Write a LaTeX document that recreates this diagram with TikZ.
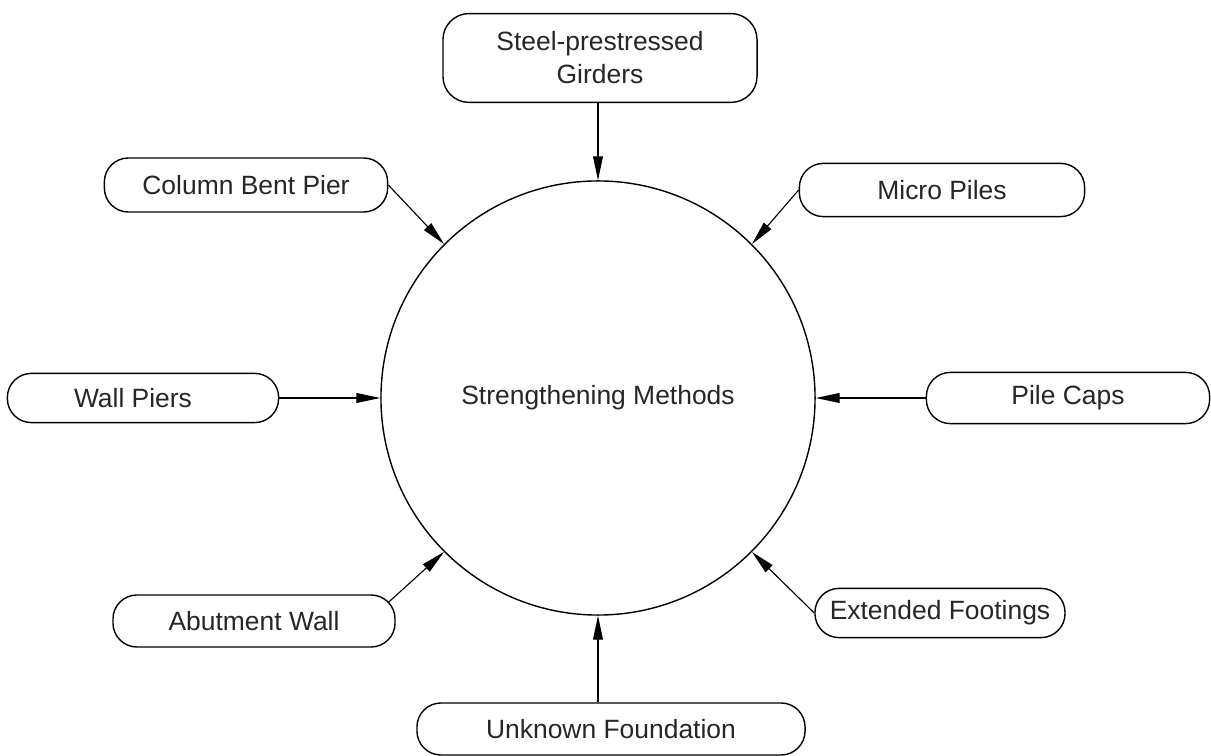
\documentclass[tikz,border=0pt]{standalone}
\usepackage{fontspec}
\setmainfont{Liberation Sans}
\usetikzlibrary{arrows.meta,calc}

\begin{document}
\begin{tikzpicture}[x=0.025cm,y=0.025cm,
  font=\fontsize{18.8}{23.5}\selectfont,
  every node/.style={draw=black, line width=1pt, text=black!85},
  method/.style={rectangle, rounded corners=0.6cm, minimum height=1.3cm, inner sep=0pt},
  hub/.style={circle, minimum size=10.85cm, inner sep=0pt},
  feed/.style={line width=0.8pt, -{Triangle[length=17pt,width=7pt]}}]
\useasboundingbox (0,0) rectangle (1211,756);
\node[hub] (strength) at (598,358) {Strengthening Methods};
\node[rectangle, rounded corners=0.65cm, minimum width=7.85cm, minimum height=2.22cm, align=center] (girders) at (600,698) {Steel-prestressed\\Girders};
\node[method, minimum width=7.08cm, minimum height=1.35cm] (column) at (246,571) {Column Bent Pier};
\node[method, minimum width=7.13cm, minimum height=1.33cm] (micro) at (942,566) {Micro Piles};
\node[method, minimum width=6.78cm, minimum height=1.23cm] (wall) at (143,358) {\hspace*{-0.5cm}Wall Piers};
\node[method, minimum width=7.08cm, minimum height=1.28cm] (caps) at (1068,358) {Pile Caps};
\node[method, minimum width=7.05cm, minimum height=1.3cm] (abutment) at (254,135) {Abutment Wall};
\node[method, minimum width=6.25cm, minimum height=1.23cm] (extended) at (940,143) {Extended Footings};
\node[method, minimum width=9.7cm, minimum height=1.3cm] (unknown) at (611,27) {Unknown Foundation};

\draw[feed] (girders.south -| strength) -- (strength.north);
\draw[feed] (column.east) -- (strength.135);
\draw[feed] (micro.west) -- (strength.45);
\draw[feed] (wall.east) -- (strength.west);
\draw[feed] (caps.west) -- (strength.east);
\draw[feed] ($(abutment.east)+(-0.19cm,0.46cm)$) -- (strength.225);
\draw[feed] (extended.west) -- (strength.-45);
\draw[feed] (unknown.north -| strength) -- (strength.south);
\end{tikzpicture}
\end{document}
